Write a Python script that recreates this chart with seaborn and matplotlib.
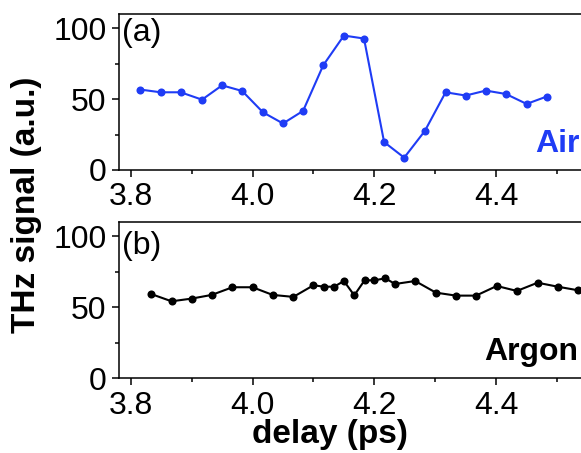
import numpy as np
import pandas as pd
import seaborn as sns
from matplotlib import pyplot as plt
from matplotlib import ticker

sns.set_style("ticks", {"text.color": "black", "axes.labelcolor": "black",
                        "xtick.color": "black", "ytick.color": "black",
                        "axes.edgecolor": "black"})
plt.rcParams["font.family"] = ["Liberation Sans", "DejaVu Sans"]

# panel (a): air
air_delay = [3.816, 3.849, 3.882, 3.917, 3.950, 3.983, 4.017, 4.050, 4.083, 4.116, 4.150,
             4.183, 4.216, 4.249, 4.283, 4.317, 4.350, 4.383, 4.416, 4.450, 4.483]
air_signal = [56.7, 54.8, 54.8, 49.6, 59.7, 55.7, 40.7, 32.8, 41.7, 73.8, 94.8,
              92.7, 19.7, 8.7, 27.6, 54.8, 52.5, 56.0, 53.6, 46.6, 51.8]

# panel (b): argon
argon_delay = [3.833, 3.867, 3.900, 3.933, 3.967, 4.000, 4.033, 4.067, 4.100, 4.117, 4.134,
               4.150, 4.167, 4.184, 4.200, 4.218, 4.234, 4.267, 4.301, 4.334, 4.367,
               4.401, 4.434, 4.468, 4.501, 4.534]
argon_signal = [59.5, 54.3, 56.2, 58.8, 64.2, 64.2, 58.8, 57.4, 65.6, 64.6, 64.6,
                68.6, 58.5, 69.1, 69.1, 70.5, 66.5, 68.6, 60.4, 58.3, 58.3,
                65.1, 61.6, 67.4, 64.6, 62.1]

blue = "#1f3cf5"
W, H = 581, 453

fig = plt.figure(figsize=(5.81, 4.53), dpi=100)
ax_a = fig.add_axes([119 / W, 1 - 170 / H, 462 / W, 156 / H])
ax_b = fig.add_axes([119 / W, 1 - 378.3 / H, 462 / W, 156 / H])

df_a = pd.DataFrame({"delay": air_delay, "signal": air_signal})
df_b = pd.DataFrame({"delay": argon_delay, "signal": argon_signal})

sns.lineplot(data=df_a, x="delay", y="signal", ax=ax_a, color=blue,
             marker="o", markersize=5.8, markeredgewidth=0, linewidth=1.5)
sns.lineplot(data=df_b, x="delay", y="signal", ax=ax_b, color="black",
             marker="o", markersize=5.8, markeredgewidth=0, linewidth=1.5)

for ax in [ax_a, ax_b]:
    ax.set_xlim(3.7807, 4.5393)
    ax.set_ylim(0, 110)
    ax.set_xlabel("")
    ax.set_ylabel("")
    ax.xaxis.set_major_locator(ticker.MultipleLocator(0.2))
    ax.xaxis.set_minor_locator(ticker.MultipleLocator(0.1))
    ax.xaxis.set_major_formatter(ticker.FormatStrFormatter("%.1f"))
    ax.yaxis.set_major_locator(ticker.MultipleLocator(50))
    ax.yaxis.set_minor_locator(ticker.MultipleLocator(25))
    ax.tick_params(which="major", length=5, width=1.1, labelsize=23, pad=4)
    ax.tick_params(which="minor", length=3, width=1.1)
    ax.spines["right"].set_visible(False)
    for s in ["left", "top", "bottom"]:
        ax.spines[s].set_linewidth(1.1)

fig.text(122 / W, 1 - 18 / H, "(a)", fontsize=23, ha="left", va="top")
fig.text(122 / W, 1 - 231 / H, "(b)", fontsize=23, ha="left", va="top")
fig.text(580 / W, 1 - 152 / H, "Air", fontsize=23, fontweight="bold",
         color=blue, ha="right", va="baseline")
fig.text(578 / W, 1 - 360 / H, "Argon", fontsize=23, fontweight="bold",
         color="black", ha="right", va="baseline")

fig.text(27 / W, 1 - 205 / H, "THz signal (a.u.)", rotation=90, fontsize=24,
         fontweight="bold", ha="center", va="center")
fig.text(330 / W, 1 - 434 / H, "delay (ps)", fontsize=24, fontweight="bold",
         ha="center", va="center")

fig.savefig("out.png", dpi=100)
